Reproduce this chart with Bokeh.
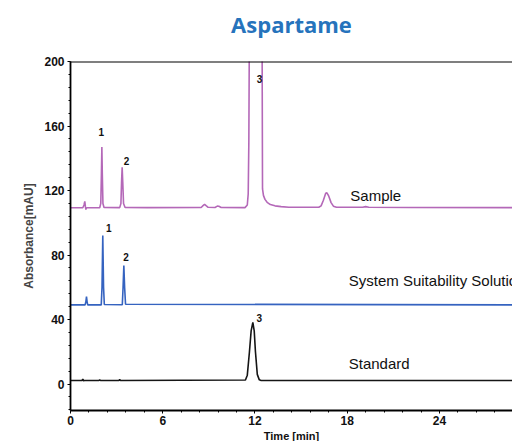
from bokeh.plotting import figure
from bokeh.models import (Range1d, SingleIntervalTicker, FixedTicker, Span, ColumnDataSource,
                          Title, LinearAxis)
from bokeh.core.properties import value
from bokeh.embed import file_html
from bokeh.resources import INLINE

# ---- data ----
sample_t = [0.0, 0.80, 0.88, 0.93, 0.97, 1.00, 1.05, 1.90, 1.97, 2.01, 2.04, 2.07, 2.11, 2.18,
            3.20, 3.28, 3.32, 3.36, 3.40, 3.45, 3.55, 5.0, 8.50, 8.62, 8.72, 8.82, 8.95,
            9.40, 9.55, 9.65, 9.80, 11.35, 11.50, 11.56, 11.60, 11.64, 11.75, 11.90, 12.05,
            12.25, 12.40, 12.46, 12.49, 12.55, 12.65, 12.79, 13.0, 13.3, 13.7, 14.2,
            16.15, 16.30, 16.45, 16.60, 16.68, 16.80, 16.95, 17.10, 17.30,
            19.0, 19.2, 19.4, 22.0, 30.0]
sample_v = [109.3, 109.3, 111.0, 113.3, 110.0, 108.2, 109.3, 109.3, 112.0, 130.0, 146.9, 130.0, 112.0, 109.5,
            109.4, 112.0, 125.0, 134.4, 125.0, 112.0, 109.5, 109.4, 109.5, 110.6, 111.4, 110.6, 109.6,
            109.5, 110.3, 110.2, 109.5, 109.4, 111.0, 118.0, 150.0, 230.0, 330.0, 400.0, 420.0,
            380.0, 300.0, 220.0, 121.0, 117.0, 114.5, 112.7, 111.3, 110.5, 110.0, 109.6,
            109.6, 110.5, 114.0, 118.3, 118.6, 116.5, 112.5, 110.3, 109.6,
            109.6, 110.0, 109.6, 109.5, 109.4]

sst_t = [0.0, 0.95, 1.00, 1.04, 1.08, 1.12, 2.00, 2.05, 2.10, 2.15, 2.20,
         3.37, 3.42, 3.47, 3.52, 3.58, 30.0]
sst_v = [49.1, 49.1, 51.0, 54.3, 51.0, 49.1, 49.1, 60.0, 92.1, 60.0, 49.3,
         49.2, 60.0, 73.5, 60.0, 49.5, 49.1]

std_t = [0.0, 0.75, 0.80, 0.85, 0.90, 1.85, 1.90, 1.95, 3.15, 3.20, 3.25,
         11.38, 11.50, 11.64, 11.75, 11.86, 11.95, 12.03, 12.15, 12.28, 12.40, 30.0]
std_v = [2.2, 2.2, 3.0, 2.0, 2.2, 2.2, 2.7, 2.2, 2.2, 2.8, 2.2,
         2.5, 5.5, 20.0, 33.0, 38.3, 33.0, 20.0, 6.0, 2.6, 2.2, 2.2]

peak_lbl_t = [2.00, 3.64, 12.29, 2.49, 3.62, 12.28]
peak_lbl_v = [156.0, 138.6, 189.0, 97.0, 79.0, 41.0]
peak_lbl_text = ["1", "2", "3", "1", "2", "3"]

trace_names = ["Sample", "System Suitability Solution", "Standard"]
trace_name_t = [18.2, 18.1, 18.1]
trace_name_v = [117.0, 64.0, 13.0]

x_ticks_interval = 6
y_ticks_interval = 40

# ---- figure ----
p = figure(width=512, height=441, output_backend="svg", toolbar_location=None,
           x_range=Range1d(0, 28.75), y_range=Range1d(-16.4, 200),
           min_border_left=70, min_border_right=0, min_border_top=61, min_border_bottom=31)
p.outline_line_color = None
p.grid.visible = False
p.background_fill_color = "white"
p.border_fill_color = "white"

bottom_axis = p.below[0]
left_axis = p.left[0]

# title drawn as the label of an invisible top axis
top_axis = LinearAxis(ticker=FixedTicker(ticks=[]), axis_label="Aspartame",
                      axis_line_color=None, major_tick_line_color=None,
                      minor_tick_line_color=None, major_tick_out=0, major_tick_in=0,
                      minor_tick_out=0, minor_tick_in=0, major_label_standoff=0,
                      axis_label_standoff=23, axis_label_text_font="Open Sans",
                      axis_label_text_font_style="bold", axis_label_text_font_size="22px",
                      axis_label_text_color="#2673BC")
p.add_layout(top_axis, "above")

p.line(sample_t, sample_v, line_color="#B468B8", line_width=1.6)
p.line(sst_t, sst_v, line_color="#3563C0", line_width=1.6)
p.line(std_t, std_v, line_color="#151515", line_width=1.6)

p.add_layout(Span(location=200, dimension="width", line_color="black", line_width=1.8))

src = ColumnDataSource(dict(x=peak_lbl_t, y=peak_lbl_v, t=peak_lbl_text))
p.text(x="x", y="y", text="t", source=src, text_font=value("Liberation Sans"),
       text_font_style="bold", text_font_size="10px", text_align="center",
       text_baseline="middle", text_color="#111111")

src2 = ColumnDataSource(dict(x=trace_name_t, y=trace_name_v, t=trace_names))
p.text(x="x", y="y", text="t", source=src2, text_font=value("Liberation Sans"),
       text_font_size="15px", text_align="left", text_baseline="middle", text_color="#111111")

for ax, iv in ((bottom_axis, x_ticks_interval), (left_axis, y_ticks_interval)):
    ax.ticker = SingleIntervalTicker(interval=iv, num_minor_ticks=5)
    ax.axis_line_width = 1.8
    ax.axis_line_color = "black"
    ax.major_tick_in = 0
    ax.major_tick_out = 3
    ax.minor_tick_in = 0
    ax.minor_tick_out = 2
    ax.major_label_text_font = "Liberation Sans"
    ax.major_label_text_font_style = "bold"
    ax.major_label_text_font_size = "12px"
    ax.major_label_text_color = "#111111"
    ax.major_label_standoff = 3

left_axis.axis_label = "Absorbance[mAU]"
left_axis.axis_label_text_font = "Liberation Sans"
left_axis.axis_label_text_font_style = "bold"
left_axis.axis_label_text_font_size = "12px"
left_axis.axis_label_standoff = 5
bottom_axis.major_label_standoff = 2

p.add_layout(Title(text="Time [min]", align="center", offset=10, standoff=0,
                   text_font="Liberation Sans", text_font_style="bold",
                   text_font_size="11px", text_color="#111111"), "below")

open("out.html", "w").write(file_html(p, INLINE))
